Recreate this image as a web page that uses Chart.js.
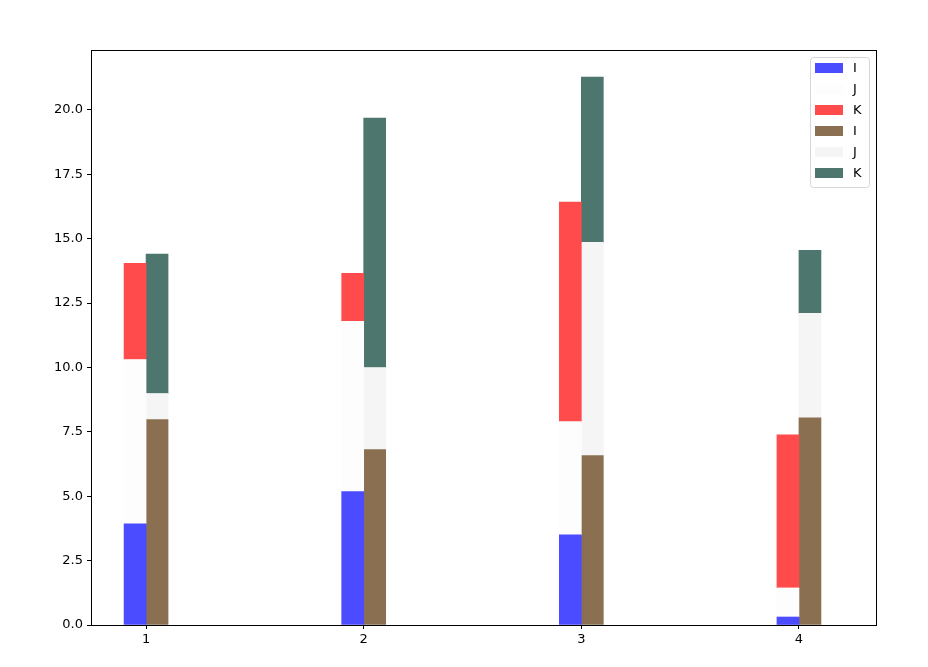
<!DOCTYPE html>
<html>
<head>
<meta charset="utf-8">
<script src="https://cdn.jsdelivr.net/npm/chart.js@4.4.1/dist/chart.umd.min.js"></script>
<style>
  body { margin: 0; background: #fff; }
  #wrap { width: 928px; height: 667px; }
</style>
</head>
<body>
<div id="wrap"><canvas id="c" width="928" height="667"></canvas></div>
<script>
var xs = [1, 2, 3, 4];
var tickLabelsY = [0, 2.5, 5, 7.5, 10, 12.5, 15, 17.5, 20];

// left stack
var valsI1 = [3.93, 5.18, 3.50, 0.31];
var valsJ1 = [6.38, 6.61, 4.40, 1.13];
var valsK1 = [3.74, 1.87, 8.52, 5.95];
// right stack
var valsI2 = [7.98, 6.81, 6.58, 8.05];
var valsJ2 = [1.01, 3.19, 8.28, 4.05];
var valsK2 = [5.41, 9.69, 6.42, 2.45];

function pts(arr) {
  return arr.map(function (v, i) { return { x: xs[i], y: v }; });
}

var fontFam = "'DejaVu Sans', sans-serif";

var frame = {
  id: 'frame',
  afterDraw: function (chart) {
    var a = chart.chartArea, ctx = chart.ctx;
    ctx.save();
    ctx.strokeStyle = '#000';
    ctx.lineWidth = 1;
    ctx.strokeRect(a.left + 0.5, a.top + 0.5, a.right - a.left, a.bottom - a.top);

    // legend, upper right like matplotlib
    var ds = chart.data.datasets;
    var bx = 810.5, by = 57.5, bw = 59, bh = 130;
    ctx.fillStyle = 'rgba(255,255,255,0.8)';
    ctx.strokeStyle = '#d6d6d6';
    ctx.beginPath();
    ctx.roundRect(bx, by, bw, bh, 3);
    ctx.fill();
    ctx.stroke();
    ctx.font = '13px ' + fontFam;
    ctx.textBaseline = 'middle';
    for (var i = 0; i < ds.length; i++) {
      var cy = 68 + i * 21;
      ctx.fillStyle = ds[i].backgroundColor;
      ctx.fillRect(815, cy - 5, 28, 10);
      ctx.fillStyle = '#000';
      ctx.fillText(ds[i].label, 853, cy + 1);
    }
    ctx.restore();
  }
};

new Chart(document.getElementById('c'), {
  type: 'bar',
  data: {
    datasets: [
      { label: 'I', data: pts(valsI1), stack: 'a', backgroundColor: '#4b4bff' },
      { label: 'J', data: pts(valsJ1), stack: 'a', backgroundColor: '#fdfdfd' },
      { label: 'K', data: pts(valsK1), stack: 'a', backgroundColor: '#ff4b4b' },
      { label: 'I', data: pts(valsI2), stack: 'b', backgroundColor: '#8a7050' },
      { label: 'J', data: pts(valsJ2), stack: 'b', backgroundColor: '#f5f5f5' },
      { label: 'K', data: pts(valsK2), stack: 'b', backgroundColor: '#4d776e' }
    ]
  },
  options: {
    responsive: false,
    animation: false,
    barThickness: 22,
    layout: { padding: { top: 50, right: 52, left: 0, bottom: 0 } },
    plugins: { legend: { display: false }, tooltip: { enabled: false } },
    scales: {
      x: {
        type: 'linear',
        min: 0.747,
        max: 4.354,
        offset: false,
        afterBuildTicks: function (s) { s.ticks = xs.map(function (v) { return { value: v }; }); },
        afterFit: function (s) { s.height = 42; },
        grid: { display: true, offset: false, drawOnChartArea: false, tickLength: 4, color: '#000' },
        border: { color: '#000' },
        ticks: { color: '#000', font: { family: fontFam, size: 13 }, padding: 3, callback: function (v) { return String(v); } }
      },
      y: {
        stacked: true,
        min: 0,
        max: 22.33,
        afterBuildTicks: function (s) { s.ticks = tickLabelsY.map(function (v) { return { value: v }; }); },
        afterFit: function (s) { s.width = 91; },
        grid: { display: true, drawOnChartArea: false, tickLength: 4, color: '#000' },
        border: { color: '#000' },
        ticks: { color: '#000', font: { family: fontFam, size: 13 }, padding: 4, callback: function (v) { return v.toFixed(1); } }
      }
    }
  },
  plugins: [frame]
});
</script>
</body>
</html>
